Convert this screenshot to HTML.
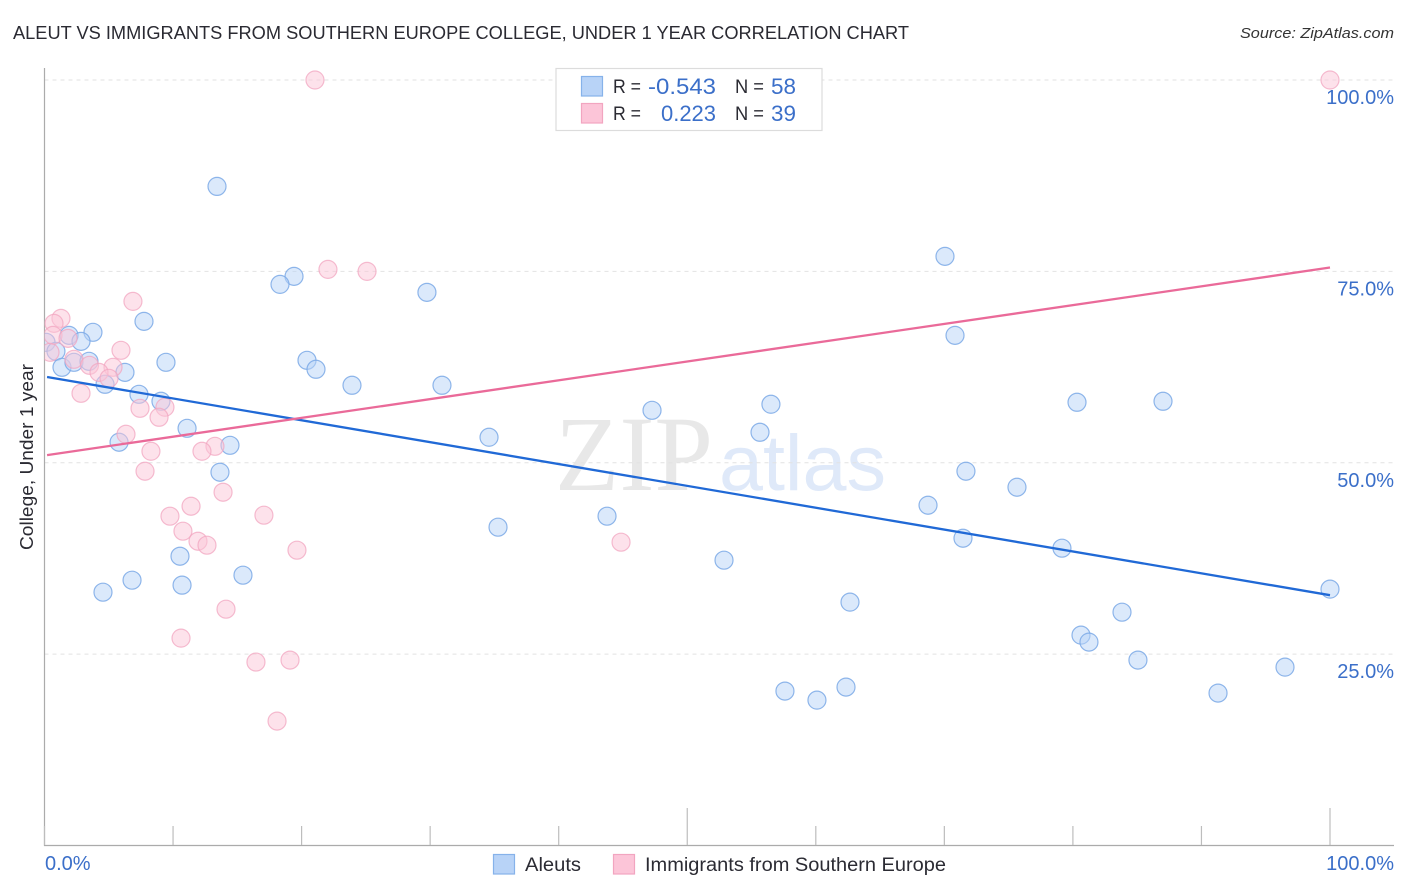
<!DOCTYPE html>
<html lang="en">
<head>
<meta charset="utf-8">
<title>Aleut vs Immigrants from Southern Europe College, Under 1 Year Correlation Chart</title>
<style>
html,body{margin:0;padding:0;background:#fff;}
#wrap{position:relative;width:1406px;height:892px;overflow:hidden;background:#fff;}
svg{display:block;font-family:"Liberation Sans",sans-serif;}
</style>
</head>
<body>
<div id="wrap">
<svg id="chart" width="1406" height="892" viewBox="0 0 1406 892" xmlns="http://www.w3.org/2000/svg">
  <text x="13" y="39" font-size="18.5" fill="#2a2a32" textLength="896" lengthAdjust="spacingAndGlyphs">ALEUT VS IMMIGRANTS FROM SOUTHERN EUROPE COLLEGE, UNDER 1 YEAR CORRELATION CHART</text>
  <text x="1394" y="38" font-size="15" font-style="italic" fill="#333" text-anchor="end" textLength="154" lengthAdjust="spacingAndGlyphs">Source: ZipAtlas.com</text>
  <g>
    <text x="555" y="490" font-family="'Liberation Serif',serif" font-size="107" fill="#e8e8e8" textLength="158" lengthAdjust="spacingAndGlyphs">ZIP</text>
    <text x="719" y="490" font-size="79" fill="#dfe9f9" textLength="167" lengthAdjust="spacingAndGlyphs">atlas</text>
  </g>
  <g id="grid"></g>
  <g id="axes"></g>
  <defs><clipPath id="plot-clip"><rect x="44.5" y="60" width="1350" height="786"></rect></clipPath></defs>
  <g id="marks" clip-path="url(#plot-clip)"></g>
  <text transform="translate(33,457) rotate(-90)" font-size="18" fill="#2a2a32" text-anchor="middle" textLength="186" lengthAdjust="spacingAndGlyphs">College, Under 1 year</text>

  <g>
    <rect x="556" y="68.5" width="266" height="62" fill="#fff" stroke="#dcdcdc" stroke-width="1.2"></rect>
    <rect x="581.5" y="76.5" width="21" height="19.5" fill="#b8d3f7" stroke="#86b2ea" stroke-width="1.2"></rect>
    <rect x="581.5" y="103.5" width="21" height="19.5" fill="#fcc5d8" stroke="#f2a5c0" stroke-width="1.2"></rect>
    <text x="613" y="93" font-size="19" fill="#2b2b33" textLength="28" lengthAdjust="spacingAndGlyphs">R =</text>
    <text x="648" y="94" font-size="22" fill="#3b6fc9" textLength="68" lengthAdjust="spacingAndGlyphs">-0.543</text>
    <text x="735" y="93" font-size="19" fill="#2b2b33" textLength="29" lengthAdjust="spacingAndGlyphs">N =</text>
    <text x="771" y="94" font-size="22" fill="#3b6fc9" textLength="25" lengthAdjust="spacingAndGlyphs">58</text>
    <text x="613" y="120" font-size="19" fill="#2b2b33" textLength="28" lengthAdjust="spacingAndGlyphs">R =</text>
    <text x="661" y="121" font-size="22" fill="#3b6fc9" textLength="55" lengthAdjust="spacingAndGlyphs">0.223</text>
    <text x="735" y="120" font-size="19" fill="#2b2b33" textLength="29" lengthAdjust="spacingAndGlyphs">N =</text>
    <text x="771" y="121" font-size="22" fill="#3b6fc9" textLength="25" lengthAdjust="spacingAndGlyphs">39</text>
  </g>

  <g>
    <rect x="493.5" y="854.5" width="21" height="19.5" fill="#b8d3f7" stroke="#86b2ea" stroke-width="1.2"></rect>
    <text x="525" y="871" font-size="19" fill="#2b2b33" textLength="56" lengthAdjust="spacingAndGlyphs">Aleuts</text>
    <rect x="613.5" y="854.5" width="21" height="19.5" fill="#fcc5d8" stroke="#f2a5c0" stroke-width="1.2"></rect>
    <text x="645" y="871" font-size="19" fill="#2b2b33" textLength="301" lengthAdjust="spacingAndGlyphs">Immigrants from Southern Europe</text>
  </g>
</svg>
</div>
<script>
const yTickValues = [100, 75, 50, 25];
const yTickLabels = ["100.0%", "75.0%", "50.0%", "25.0%"];
const xTickValues = [0, 10, 20, 30, 40, 50, 60, 70, 80, 90, 100];
const xMajorTicks = [0, 50, 100];
const xEndValues = [0, 100];
const xEndLabels = ["0.0%", "100.0%"];

const aleutsX = [13.42,70.05,19.41,18.32,29.75,7.74,70.83,3.77,1.91,2.84,0.12,0.89,1.36,2.29,3.46,9.45,20.42,21.12,6.26,23.92,30.92,4.71,7.35,9.06,56.51,80.32,87.01,47.26,11.09,55.66,34.58,5.80,14.43,13.65,71.68,75.65,68.73,43.76,35.28,71.45,79.15,10.54,52.86,15.44,6.81,10.70,4.55,100,62.66,83.82,80.63,81.25,85.06,96.50,62.35,57.60,91.29,60.09];
const aleutsY = [86.10,76.96,74.35,73.30,72.26,68.47,66.64,67.04,66.64,65.86,65.73,64.56,62.47,63.12,63.25,63.12,63.38,62.21,61.81,60.12,60.12,60.25,58.94,58.03,57.64,57.90,58.03,56.85,54.50,53.98,53.33,52.68,52.28,48.76,48.89,46.80,44.45,43.02,41.58,40.14,38.84,37.79,37.27,35.31,34.66,34.01,33.09,33.49,31.79,30.48,27.48,26.57,24.22,23.30,20.69,20.17,19.91,18.99];

const immigrantsX = [21.04,100,22.05,25.09,6.88,1.28,0.74,0.66,1.83,0.43,2.29,5.95,3.50,5.33,4.24,5.02,2.84,7.43,9.37,8.91,6.34,8.28,13.26,12.25,7.82,13.89,11.40,9.76,17.07,10.77,11.94,12.64,19.64,44.85,14.12,10.62,16.45,19.10,18.09];
const immigrantsY = [100,100,75.26,75.00,71.08,68.86,68.21,66.64,66.25,64.43,63.51,64.69,62.73,62.47,61.81,61.03,59.07,57.11,57.25,55.94,53.72,51.50,52.15,51.50,48.89,46.15,44.32,43.02,43.15,41.06,39.75,39.23,38.58,39.62,30.87,27.09,23.96,24.22,16.25];

const aleutsTrendX = [0.2, 100];
const aleutsTrendY = [61.2, 32.7];
const immigrantsTrendX = [0.2, 100];
const immigrantsTrendY = [51.0, 75.5];

const NS = "http://www.w3.org/2000/svg";
function xScale(v){ return 44.5 + v * 12.855; }
function yScale(v){ return 845.5 - v * 7.655; }
function make(tag, attrs, parent){
  const el = document.createElementNS(NS, tag);
  for (const k in attrs) el.setAttribute(k, attrs[k]);
  parent.appendChild(el);
  return el;
}
const grid = document.getElementById("grid");
const axes = document.getElementById("axes");
const marks = document.getElementById("marks");

yTickValues.forEach(function(v, i){
  const line = make("line", {x1:44.5, x2:1394, y1:yScale(v), y2:yScale(v), stroke:"#e2e2e2", "stroke-width":1, "stroke-dasharray":"4 4"}, grid);
  
  
  const label = make("text", {x:1394, y:yScale(v)+24, "font-size":20, fill:"#3b6fc9", "text-anchor":"end"}, axes);
  label.textContent = yTickLabels[i];
  
  
});

const yAxis = make("line", {x1:44.5, x2:44.5, y1:68, y2:846, stroke:"#ababab", "stroke-width":1.2}, axes);


const xAxis = make("line", {x1:44, x2:1394, y1:845.5, y2:845.5, stroke:"#ababab", "stroke-width":1.2}, axes);



xTickValues.forEach(function(v){
  const top = xMajorTicks.indexOf(v) >= 0 && v !== 0 ? 808 : 826;
  const tick = make("line", {x1:xScale(v), x2:xScale(v), y1:top, y2:845, stroke:"#bdbdbd", "stroke-width":1.2}, axes);
  
  
});
xEndValues.forEach(function(v, i){
  const label = make("text", {x: i === 0 ? 45 : 1394, y:870, "font-size":20, fill:"#3b6fc9", "text-anchor": i === 0 ? "start" : "end"}, axes);
  label.textContent = xEndLabels[i];
  
  
});

aleutsX.forEach(function(v, i){
  const c = make("circle", {cx:xScale(v), cy:yScale(aleutsY[i]), r:9, fill:"#b8d3f7", "fill-opacity":0.5, stroke:"#7ba9e6", "stroke-opacity":0.85, "stroke-width":1.2}, marks);
  
  
});
immigrantsX.forEach(function(v, i){
  const c = make("circle", {cx:xScale(v), cy:yScale(immigrantsY[i]), r:9, fill:"#fcc5d8", "fill-opacity":0.5, stroke:"#f2a5c0", "stroke-opacity":0.75, "stroke-width":1.2}, marks);
  
  
});

const blueTrend = make("line", {x1:xScale(aleutsTrendX[0]), y1:yScale(aleutsTrendY[0]), x2:xScale(aleutsTrendX[1]), y2:yScale(aleutsTrendY[1]), stroke:"#2069d6", "stroke-width":2.3}, marks);


const pinkTrend = make("line", {x1:xScale(immigrantsTrendX[0]), y1:yScale(immigrantsTrendY[0]), x2:xScale(immigrantsTrendX[1]), y2:yScale(immigrantsTrendY[1]), stroke:"#ea6a99", "stroke-width":2.3}, marks);


</script>
</body>
</html>
